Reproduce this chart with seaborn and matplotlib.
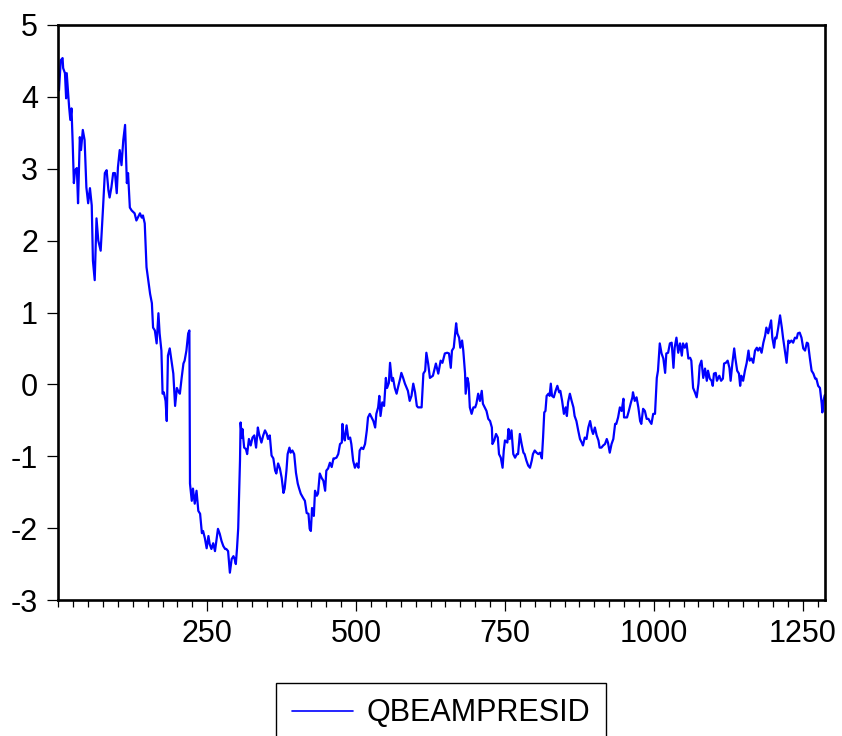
import matplotlib
matplotlib.use("Agg")
import matplotlib.pyplot as plt
from matplotlib.ticker import MultipleLocator, FixedLocator
import seaborn as sns
import pandas as pd

series_name = "QBEAMPRESID"

obs = [1, 4, 7, 8, 11, 13, 14, 16, 18, 20, 22, 24, 26, 28, 31, 33, 36, 38, 41, 44,
       47, 50, 53, 56, 58, 61, 64, 67, 71, 75, 78, 81, 84, 86, 89, 92, 95, 98, 100, 103,
       106, 109, 112, 115, 117, 120, 123, 128, 131, 137, 140, 142, 145, 148, 151, 154, 157, 159, 162, 165,
       168, 170, 173, 175, 177, 180, 182, 184, 187, 190, 193, 196, 199, 201, 204, 207, 210, 212, 215, 218,
       220, 221, 224, 226, 229, 232, 235, 238, 241, 243, 246, 249, 252, 254, 257, 260, 263, 266, 268, 271,
       274, 277, 280, 282, 285, 288, 291, 294, 296, 298, 300, 302, 305, 306, 308, 309, 312, 315, 317, 320,
       323, 326, 329, 332, 335, 337, 341, 344, 347, 350, 352, 355, 358, 361, 364, 366, 369, 372, 375, 378,
       380, 383, 385, 388, 390, 393, 396, 399, 402, 404, 407, 411, 414, 417, 420, 422, 424, 426, 429, 431,
       434, 436, 439, 442, 445, 448, 450, 453, 456, 459, 462, 464, 467, 470, 473, 476, 477, 479, 481, 484,
       487, 490, 492, 495, 498, 501, 504, 506, 509, 512, 515, 518, 520, 523, 526, 529, 532, 534, 537, 539,
       541, 544, 547, 550, 552, 555, 557, 560, 562, 565, 568, 571, 574, 576, 579, 582, 585, 587, 590, 593,
       596, 599, 602, 604, 607, 610, 613, 616, 618, 621, 624, 629, 634, 638, 642, 645, 649, 653, 656, 659,
       661, 664, 668, 670, 673, 675, 678, 680, 683, 684, 687, 689, 691, 694, 697, 700, 702, 705, 708, 711,
       713, 716, 719, 722, 725, 728, 729, 732, 735, 738, 740, 743, 746, 748, 750, 754, 756, 758, 761, 764,
       767, 770, 772, 775, 778, 781, 783, 786, 789, 792, 795, 797, 800, 803, 806, 809, 812, 814, 816, 818,
       820, 823, 825, 827, 829, 832, 835, 838, 841, 843, 846, 849, 852, 854, 856, 859, 862, 865, 867, 870,
       873, 876, 879, 881, 884, 887, 890, 893, 896, 898, 901, 904, 907, 909, 912, 915, 918, 921, 923, 926,
       929, 932, 935, 937, 940, 943, 946, 949, 950, 953, 955, 958, 961, 964, 965, 968, 971, 974, 977, 979,
       982, 985, 988, 991, 993, 996, 999, 1002, 1005, 1007, 1010, 1013, 1016, 1019, 1021, 1024, 1027, 1030, 1033, 1035,
       1038, 1041, 1044, 1047, 1049, 1052, 1055, 1058, 1061, 1063, 1066, 1069, 1072, 1075, 1077, 1080, 1083, 1086, 1089, 1091,
       1094, 1097, 1099, 1101, 1104, 1106, 1110, 1113, 1116, 1118, 1121, 1124, 1127, 1129, 1132, 1135, 1137, 1140, 1143, 1145,
       1147, 1150, 1153, 1156, 1159, 1161, 1164, 1167, 1170, 1173, 1175, 1178, 1181, 1184, 1187, 1189, 1192, 1195, 1197, 1199,
       1202, 1204, 1206, 1209, 1212, 1215, 1217, 1220, 1223, 1226, 1228, 1231, 1234, 1237, 1240, 1242, 1245, 1248, 1251, 1254,
       1257, 1259, 1262, 1265, 1268, 1271, 1273, 1276, 1279, 1282, 1283, 1285, 1287]

values = [4.09, 4.51, 4.54, 4.40, 4.33, 3.98, 4.33, 4.09, 3.86, 3.68, 3.84, 3.36, 2.80, 2.98, 3.01, 2.52, 3.44, 3.26, 3.54, 3.40,
          2.74, 2.52, 2.73, 2.49, 1.72, 1.45, 2.31, 2.00, 1.86, 2.46, 2.94, 2.98, 2.70, 2.60, 2.74, 2.94, 2.94, 2.66, 3.02, 3.26,
          3.05, 3.40, 3.61, 2.80, 2.94, 2.46, 2.42, 2.38, 2.28, 2.38, 2.32, 2.35, 2.24, 1.63, 1.45, 1.26, 1.13, 0.79, 0.75, 0.57,
          0.99, 0.71, 0.47, -0.13, -0.11, -0.23, -0.51, 0.40, 0.50, 0.33, 0.15, -0.30, -0.05, -0.09, -0.13, 0.09, 0.29, 0.33, 0.47, 0.71,
          0.75, -1.38, -1.62, -1.45, -1.66, -1.48, -1.76, -1.80, -2.07, -2.04, -2.14, -2.28, -2.11, -2.22, -2.29, -2.21, -2.32, -2.14, -2.01, -2.08,
          -2.18, -2.25, -2.29, -2.29, -2.32, -2.62, -2.43, -2.39, -2.43, -2.50, -2.28, -2.00, -1.06, -0.53, -0.74, -0.62, -0.88, -0.90, -0.97, -0.76,
          -0.85, -0.74, -0.71, -0.88, -0.60, -0.69, -0.81, -0.71, -0.64, -0.69, -0.76, -0.71, -0.99, -1.03, -1.20, -1.24, -1.10, -1.17, -1.30, -1.51,
          -1.45, -1.20, -0.97, -0.88, -0.95, -0.92, -0.97, -1.23, -1.38, -1.44, -1.52, -1.58, -1.62, -1.79, -1.80, -2.01, -2.04, -1.72, -1.83, -1.48,
          -1.55, -1.52, -1.24, -1.30, -1.34, -1.48, -1.20, -1.17, -1.09, -1.15, -1.03, -1.03, -1.02, -0.97, -0.83, -0.81, -0.55, -0.71, -0.78, -0.57,
          -0.76, -0.74, -0.83, -1.06, -1.16, -1.10, -1.16, -0.92, -0.88, -0.90, -0.83, -0.64, -0.46, -0.41, -0.46, -0.51, -0.60, -0.41, -0.32, -0.16,
          -0.44, -0.25, -0.30, 0.09, -0.05, 0.02, 0.30, 0.05, 0.09, -0.05, -0.13, -0.02, 0.08, 0.16, 0.09, 0.01, -0.05, -0.09, -0.23, -0.16,
          0.01, -0.11, -0.30, -0.32, -0.32, -0.32, 0.15, 0.19, 0.44, 0.29, 0.09, 0.12, 0.29, 0.15, 0.33, 0.30, 0.43, 0.44, 0.43, 0.23,
          0.47, 0.51, 0.85, 0.71, 0.65, 0.51, 0.61, 0.47, 0.15, -0.13, 0.09, 0.01, -0.32, -0.41, -0.32, -0.32, -0.27, -0.13, -0.23, -0.09,
          -0.27, -0.32, -0.37, -0.48, -0.51, -0.60, -0.83, -0.78, -0.69, -0.74, -0.97, -1.02, -1.16, -0.92, -0.78, -0.81, -0.62, -0.76, -0.64, -0.97,
          -1.02, -0.97, -0.97, -0.69, -0.83, -0.95, -0.97, -1.06, -1.13, -1.16, -1.06, -0.97, -0.92, -0.95, -0.97, -0.95, -1.03, -0.74, -0.39, -0.37,
          -0.16, -0.13, -0.16, 0.01, -0.16, -0.18, -0.09, -0.02, -0.11, -0.09, -0.23, -0.41, -0.32, -0.44, -0.25, -0.13, -0.23, -0.32, -0.44, -0.51,
          -0.64, -0.76, -0.81, -0.85, -0.74, -0.76, -0.60, -0.51, -0.64, -0.69, -0.60, -0.71, -0.78, -0.88, -0.88, -0.85, -0.83, -0.76, -0.81, -0.95,
          -0.83, -0.76, -0.55, -0.55, -0.46, -0.32, -0.37, -0.20, -0.46, -0.46, -0.46, -0.37, -0.27, -0.18, -0.11, -0.23, -0.18, -0.32, -0.51, -0.55,
          -0.34, -0.37, -0.48, -0.48, -0.51, -0.55, -0.41, -0.41, 0.09, 0.19, 0.57, 0.43, 0.36, 0.16, 0.43, 0.44, 0.57, 0.58, 0.23, 0.51,
          0.65, 0.44, 0.57, 0.40, 0.57, 0.51, 0.57, 0.36, 0.37, 0.33, -0.05, -0.11, -0.18, 0.01, 0.26, 0.33, 0.09, 0.22, 0.05, 0.19,
          0.08, 0.05, -0.02, 0.15, 0.16, 0.05, 0.12, 0.05, 0.08, 0.29, 0.30, 0.33, 0.23, 0.05, 0.30, 0.50, 0.36, 0.19, 0.15, -0.02,
          0.12, 0.05, 0.19, 0.30, 0.47, 0.33, 0.36, 0.30, 0.47, 0.51, 0.47, 0.51, 0.44, 0.58, 0.68, 0.79, 0.71, 0.82, 0.89, 0.65,
          0.51, 0.65, 0.64, 0.79, 0.96, 0.79, 0.65, 0.47, 0.30, 0.61, 0.58, 0.61, 0.58, 0.65, 0.64, 0.71, 0.72, 0.65, 0.50, 0.47,
          0.58, 0.57, 0.37, 0.19, 0.15, 0.08, 0.08, -0.02, -0.05, -0.27, -0.39, -0.23, -0.15]

y_ticks = [-3, -2, -1, 0, 1, 2, 3, 4, 5]
x_ticks = [250, 500, 750, 1000, 1250]

sns.set_style("ticks")
plt.rcParams["font.family"] = ["Liberation Sans", "DejaVu Sans"]
plt.rcParams["axes.unicode_minus"] = False
plt.rcParams["text.color"] = "black"

df = pd.DataFrame({"obs": obs, series_name: values})

fig = plt.figure(figsize=(8.42, 7.36), dpi=100)
ax = fig.add_axes([57.5 / 842, 1 - 600 / 736, (825 - 57.5) / 842, (600 - 25) / 736])

sns.lineplot(data=df, x="obs", y=series_name, ax=ax, color="#0000FF",
             linewidth=1.6, label=series_name, legend=False)

ax.set_xlim(-1.5, 1287.5)
ax.set_ylim(-3, 5)
ax.yaxis.set_major_locator(FixedLocator(y_ticks))
ax.xaxis.set_major_locator(FixedLocator(x_ticks))
ax.xaxis.set_minor_locator(MultipleLocator(25))
ax.set_xlabel("")
ax.set_ylabel("")

for s in ax.spines.values():
    s.set_visible(True)
    s.set_linewidth(1.9)
    s.set_color("black")

ax.tick_params(axis="both", which="major", direction="out", length=8, width=0.9,
               labelsize=22, colors="black", labelcolor="black", pad=6)
ax.tick_params(axis="x", which="minor", direction="out", length=5, width=0.9, colors="black")
ax.tick_params(axis="y", which="minor", length=0)
ax.tick_params(top=False, right=False)

handles, labels = ax.get_legend_handles_labels()
leg = fig.legend(handles, labels, loc="upper center",
                 bbox_to_anchor=(441 / 842, 1 - 683 / 736),
                 fontsize=22, frameon=True, fancybox=False, framealpha=1,
                 edgecolor="black", handlelength=2.0, handletextpad=0.45,
                 borderpad=0.5, borderaxespad=0, labelcolor="black")
leg.get_frame().set_linewidth(1.0)
for ln in leg.get_lines():
    ln.set_linewidth(1.2)

fig.savefig("out.png", dpi=100)
